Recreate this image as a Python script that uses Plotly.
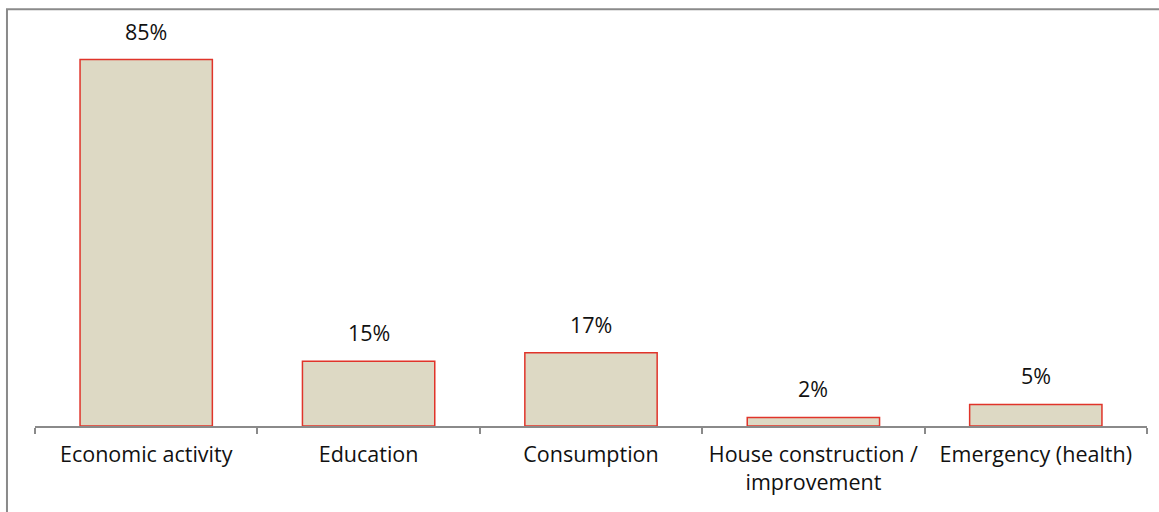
import plotly.graph_objects as go

categories = ["Economic activity", "Education", "Consumption",
              "House construction /<br>improvement", "Emergency (health)"]
values = [85, 15, 17, 2, 5]
value_labels = ["85%", "15%", "17%", "2%", "5%"]

FONT = "Open Sans"
TEXT_SIZE = 21.5

fig = go.Figure()
fig.add_trace(go.Bar(
    x=categories,
    y=values,
    marker=dict(color="#DDD9C4", line=dict(color="#E0342A", width=1.5)),
    hoverinfo="skip",
))

# value labels above each bar
for c, v, t in zip(categories, values, value_labels):
    fig.add_annotation(x=c, y=v, text=t, showarrow=False, yanchor="bottom",
                       yshift=12, font=dict(family=FONT, size=TEXT_SIZE, color="#111111"))

# chart area frame
fig.add_shape(type="rect", xref="paper", yref="paper",
              x0=-0.0252, x1=1.05, y0=-0.5, y1=1.074,
              line=dict(color="#8A8A8A", width=2), fillcolor="rgba(0,0,0,0)", layer="above")

fig.update_layout(
    width=1159, height=512,
    margin=dict(l=35, r=12, t=38, b=86),
    paper_bgcolor="white", plot_bgcolor="white",
    bargap=0.405,
    showlegend=False,
    font=dict(family=FONT, size=TEXT_SIZE, color="#111111"),
    xaxis=dict(
        type="category",
        showline=True, linecolor="#8A8A8A", linewidth=2,
        ticks="outside", tickson="boundaries", ticklen=6, tickwidth=2, tickcolor="#8A8A8A",
        showgrid=False, ticklabelstandoff=8,
        tickfont=dict(family=FONT, size=TEXT_SIZE, color="#111111"),
    ),
    yaxis=dict(range=[0, 90], visible=False, showgrid=False, zeroline=False),
)

fig.write_html("out.html")
